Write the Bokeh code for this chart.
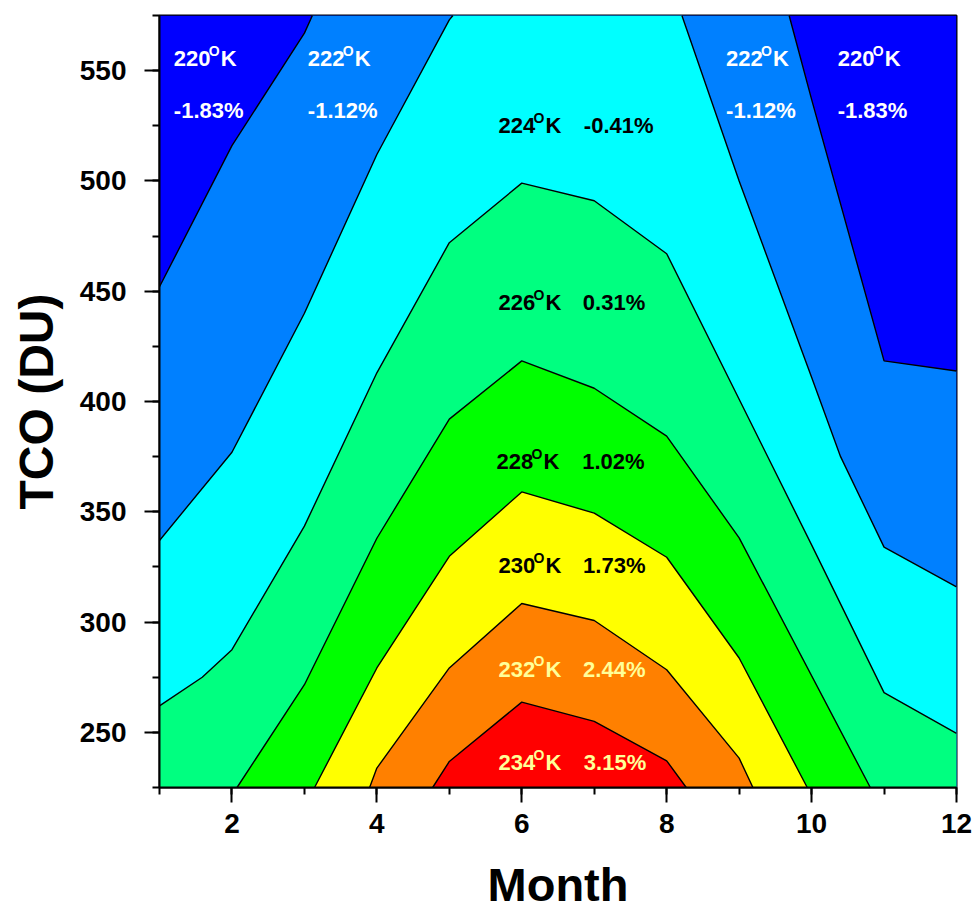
from bokeh.plotting import figure
from bokeh.models import Range1d, SingleIntervalTicker, ColumnDataSource
from bokeh.core.properties import value
from bokeh.embed import file_html
from bokeh.resources import INLINE

# ---------------- data ----------------
MONTH_MIN, MONTH_MAX = 1, 12
TCO_MIN, TCO_MAX = 225, 575

levels = [220, 222, 224, 226, 228, 230, 232, 234]
level_colors = ["#0000FF", "#0080FF", "#00FFFF", "#00FF80",
                "#00FF00", "#FFFF00", "#FF8000", "#FF0000"]

# contour boundaries (month, TCO)
b222_left_m = [1, 2, 3, 3.11]
b222_left_t = [452, 516, 567, 575]
b222_right_m = [9.69, 10, 11, 12]
b222_right_t = [575, 537, 418.4, 413.8]

b224_left_m = [1, 2, 3, 4, 5, 5.05]
b224_left_t = [337, 377, 440, 512, 573, 575]
b224_right_m = [8.21, 9, 10, 10.4, 11, 12]
b224_right_t = [575, 500, 411, 375, 334, 316]

b226_m = [1, 1.59, 2, 3, 4, 5, 6, 7, 8, 9, 10, 11, 12]
b226_t = [262, 275, 287.5, 343.5, 413, 472, 499, 491, 467, 401, 335, 268, 249.5]

b228_m = [2.07, 3, 4, 5, 6, 7, 8, 9, 10.81]
b228_t = [225, 271.6, 338, 392, 418.4, 406, 384.3, 338.2, 225]

b230_m = [3.14, 4, 5, 6, 7, 8, 9, 9.94]
b230_t = [225, 279.2, 329.8, 359, 349.4, 329.4, 283.7, 225]

b232_m = [3.9, 4, 5, 6, 7, 8, 9, 9.19]
b232_t = [225, 233.8, 279.2, 308.4, 300.7, 278.4, 238.3, 225]

b234_m = [4.77, 5, 6, 7, 8, 8.27]
b234_t = [225, 236.8, 263.7, 255, 237.1, 225]

# labels
label_temp = ["220", "222", "222", "220", "224", "226", "228", "230", "232", "234"]
label_temp_month = [1.198, 3.047, 8.82, 10.36, 5.68, 5.68, 5.65, 5.68, 5.68, 5.68]
label_temp_tco = [555.3, 555.3, 555.3, 555.3, 525.0, 444.8, 372.6, 325.5, 278.6, 236.2]
label_pct = ["-1.83%", "-1.12%", "-1.12%", "-1.83%", "-0.41%", "0.31%",
             "1.02%", "1.73%", "2.44%", "3.15%"]
label_pct_month = [1.198, 3.047, 8.82, 10.36, 6.857, 6.843, 6.834, 6.846, 6.846, 6.857]
label_pct_tco = [531.8, 531.8, 531.8, 531.8, 525.0, 444.8, 372.6, 325.5, 278.6, 236.2]
label_colors = ["white", "white", "white", "white", "black", "black",
                "black", "black", "#FFFF99", "#FFFF99"]

# ---------------- figure ----------------
p = figure(width=975, height=913,
           x_range=Range1d(MONTH_MIN, MONTH_MAX), y_range=Range1d(TCO_MIN, TCO_MAX),
           output_backend="svg", toolbar_location=None,
           min_border_left=159, min_border_right=19, min_border_top=15, min_border_bottom=126)
p.xgrid.visible = False
p.ygrid.visible = False
p.outline_line_color = "black"
p.outline_line_width = 2
p.outline_line_alpha = 1.0
p.background_fill_color = "white"

corner_m = [MONTH_MAX, MONTH_MIN]
corner_t = [TCO_MIN, TCO_MIN]

polys = [
    ([MONTH_MIN, MONTH_MAX, MONTH_MAX, MONTH_MIN], [TCO_MIN, TCO_MIN, TCO_MAX, TCO_MAX]),
    (b222_left_m + b222_right_m + corner_m, b222_left_t + b222_right_t + corner_t),
    (b224_left_m + b224_right_m + corner_m, b224_left_t + b224_right_t + corner_t),
    (b226_m + corner_m, b226_t + corner_t),
    (b228_m, b228_t),
    (b230_m, b230_t),
    (b232_m, b232_t),
    (b234_m, b234_t),
]
for (xs, ys), col in zip(polys, level_colors):
    p.patch(xs, ys, fill_color=col, line_color=None)

boundaries = [
    (b222_left_m, b222_left_t), (b222_right_m, b222_right_t),
    (b224_left_m, b224_left_t), (b224_right_m, b224_right_t),
    (b226_m, b226_t), (b228_m, b228_t), (b230_m, b230_t),
    (b232_m, b232_t), (b234_m, b234_t),
]
for xs, ys in boundaries:
    p.line(xs, ys, line_color="black", line_width=1.4)

# labels
FONT = value("Liberation Sans")
src_t = ColumnDataSource(dict(x=label_temp_month, y=label_temp_tco, txt=label_temp,
                              col=label_colors))
src_p = ColumnDataSource(dict(x=label_pct_month, y=label_pct_tco, txt=label_pct,
                              col=label_colors))
common = dict(text_color="col", text_font=FONT, text_font_style="bold",
              text_align="left", text_baseline="middle")
p.text(x="x", y="y", text="txt", source=src_t, text_font_size="22px", **common)
p.text(x="x", y="y", text=value("O"), source=src_t, text_font_size="14px",
       x_offset=35, y_offset=-8, **common)
p.text(x="x", y="y", text=value("K"), source=src_t, text_font_size="22px",
       x_offset=47, **common)
p.text(x="x", y="y", text="txt", source=src_p, text_font_size="22px", **common)

# axes
p.xaxis.ticker = SingleIntervalTicker(interval=2, num_minor_ticks=2)
p.yaxis.ticker = SingleIntervalTicker(interval=50, num_minor_ticks=2)
for ax in (p.xaxis[0], p.yaxis[0]):
    ax.axis_line_width = 2
    ax.axis_line_color = "black"
    ax.major_tick_line_width = 2
    ax.minor_tick_line_width = 2
    ax.major_tick_out = 15
    ax.major_tick_in = 0
    ax.minor_tick_out = 7
    ax.minor_tick_in = 0
    ax.major_label_text_font = "Liberation Sans"
    ax.major_label_text_font_style = "bold"
    ax.major_label_text_font_size = "28px"
    ax.major_label_text_color = "black"
    ax.axis_label_text_font = "Liberation Sans"
    ax.axis_label_text_font_style = "bold"
    ax.axis_label_text_color = "black"

p.xaxis.axis_label = "Month"
p.xaxis.axis_label_text_font_size = "47px"
p.xaxis.major_label_standoff = 11
p.xaxis.axis_label_standoff = 22

p.yaxis.axis_label = "TCO (DU)"
p.yaxis.axis_label_text_font_size = "48px"
p.yaxis.major_label_standoff = 18
p.yaxis.axis_label_standoff = 14

open("out.html", "w").write(file_html(p, INLINE))
